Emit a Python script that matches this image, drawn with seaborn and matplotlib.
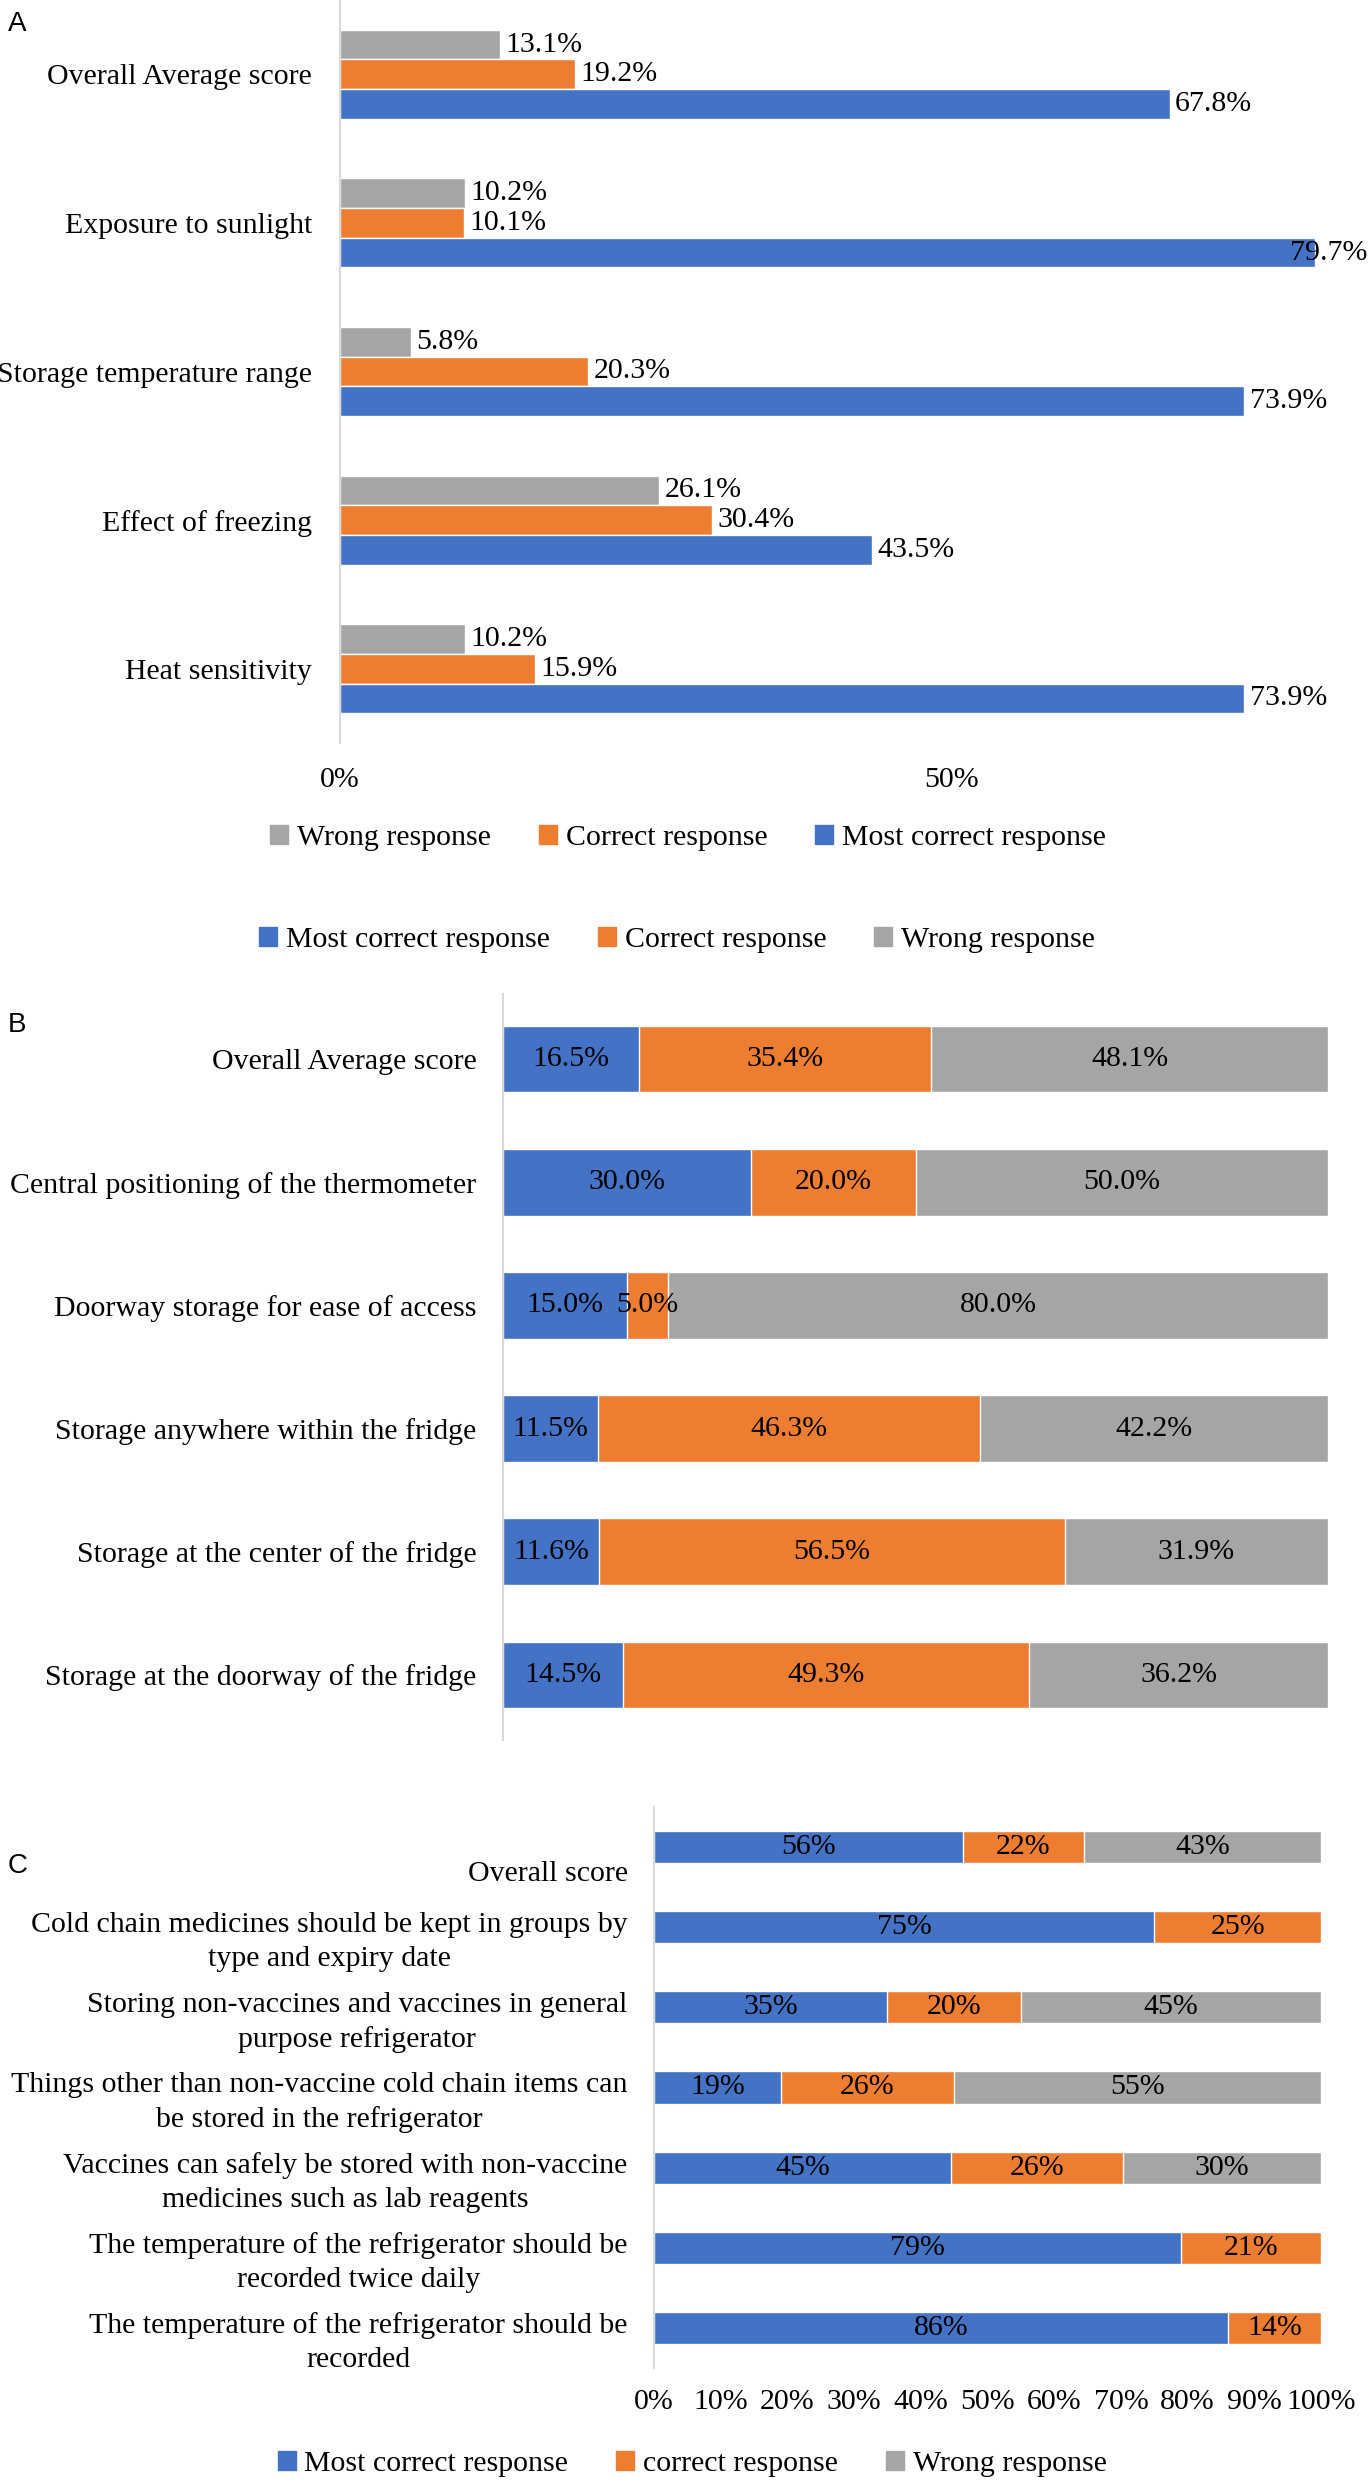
import matplotlib
matplotlib.use("Agg")
import matplotlib.pyplot as plt
import seaborn as sns
import pandas as pd
from matplotlib.patches import Patch
from matplotlib.transforms import ScaledTranslation

BLUE = "#4472C4"
ORANGE = "#ED7D31"
GRAY = "#A5A5A5"

# ---- panel A data
a_items = ["Overall Average score", "Exposure to sunlight", "Storage temperature range",
           "Effect of freezing", "Heat sensitivity"]
a_wrong = [13.1, 10.2, 5.8, 26.1, 10.2]
a_correct = [19.2, 10.1, 20.3, 30.4, 15.9]
a_most = [67.8, 79.7, 73.9, 43.5, 73.9]

# ---- panel B data
b_items = ["Overall Average score", "Central positioning of the thermometer",
           "Doorway storage for ease of access", "Storage anywhere within the fridge",
           "Storage at the center of the fridge", "Storage at the doorway of the fridge"]
b_most = [16.5, 30.0, 15.0, 11.5, 11.6, 14.5]
b_correct = [35.4, 20.0, 5.0, 46.3, 56.5, 49.3]
b_wrong = [48.1, 50.0, 80.0, 42.2, 31.9, 36.2]

# ---- panel C data
c_items = ["Overall score",
           "Cold chain medicines should be kept in groups by\ntype and expiry date",
           "Storing non-vaccines and vaccines in general\npurpose refrigerator",
           "Things other than non-vaccine cold chain items can\nbe stored in the refrigerator",
           "Vaccines can safely be stored with non-vaccine\nmedicines such as lab reagents",
           "The temperature of the refrigerator should be\nrecorded twice daily",
           "The temperature of the refrigerator should be\nrecorded"]
c_most = [56, 75, 35, 19, 45, 79, 86]
c_correct = [22, 25, 20, 26, 26, 21, 14]
c_wrong = [43, 0, 45, 55, 30, 0, 0]

sns.set_theme(style="white")
plt.rcParams["font.family"] = ["Liberation Serif", "DejaVu Serif"]
plt.rcParams["text.color"] = "black"
plt.rcParams["xtick.color"] = "black"
plt.rcParams["ytick.color"] = "black"
FS = 21.5

W, H = 1369, 2480
fig = plt.figure(figsize=(W / 100, H / 100), dpi=100)


def box(l, t, r, b):
    return [l / W, 1 - b / H, (r - l) / W, (b - t) / H]


def style_axis(ax):
    sns.despine(ax=ax, left=False, bottom=True)
    ax.spines["left"].set_color("#D9D9D9")
    ax.spines["left"].set_linewidth(1.5)
    ax.set_xlabel("")
    ax.set_ylabel("")


def legend(handles, x, y):
    fig.legend(handles=handles, loc="center", bbox_to_anchor=(x / W, 1 - y / H), ncol=3,
               frameon=False, fontsize=FS, handlelength=0.6, handleheight=0.6,
               handletextpad=0.3, columnspacing=1.6)


# ================= A
axA = fig.add_axes(box(340, 0, 1369, 743))
resp_a = ["Wrong response", "Correct response", "Most correct response"]
dfA = pd.DataFrame({
    "item": a_items * 3,
    "resp": [resp_a[0]] * 5 + [resp_a[1]] * 5 + [resp_a[2]] * 5,
    "pct": a_wrong + a_correct + a_most,
})
sns.barplot(data=dfA, y="item", x="pct", hue="resp", hue_order=resp_a,
            palette=[GRAY, ORANGE, BLUE], orient="h", width=0.6, saturation=1,
            errorbar=None, legend=False, ax=axA)
a_labels = []
for cont in axA.containers:
    a_labels += axA.bar_label(cont, fmt="%.1f%%", padding=4, fontsize=FS, clip_on=False)
axA.set_xlim(0, 84.1)
axA.set_ylim(4.5, -0.5)
axA.set_xticks([0, 50])
axA.set_xticklabels(["0%", "50%"])
axA.tick_params(axis="x", length=0, pad=17, labelsize=FS)
axA.tick_params(axis="y", length=0, pad=20, labelsize=FS)
style_axis(axA)
legend([Patch(color=GRAY, label="Wrong response"),
        Patch(color=ORANGE, label="Correct response"),
        Patch(color=BLUE, label="Most correct response")], 688, 838)
fig.text(8 / W, 1 - 24 / H, "A", family="Liberation Sans", fontsize=20, va="center")

# labels running past the right edge are pulled back inside (as in the original)
renderer = fig.canvas.get_renderer()
for lab in a_labels:
    bb = lab.get_window_extent(renderer)
    over = bb.x1 - (W - 2)
    if over > 0:
        ox, oy = lab.xyann
        lab.xyann = (ox - over * 72 / 100, oy)


def stacked(ax, items, most, correct, wrong, width, fmt, normalize=False):
    df = pd.DataFrame({"item": items, "most": most, "correct": correct, "wrong": wrong})
    if normalize:
        tot = df["most"] + df["correct"] + df["wrong"]
        for k in ["most", "correct", "wrong"]:
            df[k + "_s"] = df[k] / tot * 100
    else:
        for k in ["most", "correct", "wrong"]:
            df[k + "_s"] = df[k]
    df["c1"] = df["most_s"]
    df["c2"] = df["c1"] + df["correct_s"]
    df["c3"] = df["c2"] + df["wrong_s"]
    for col, colr in [("c3", GRAY), ("c2", ORANGE), ("c1", BLUE)]:
        sns.barplot(data=df, y="item", x=col, color=colr, orient="h", width=width,
                    saturation=1, errorbar=None, ax=ax)
    for i, r in df.iterrows():
        starts = [0, r["c1"], r["c2"]]
        for s, k in zip(starts, ["most", "correct", "wrong"]):
            if r[k] > 0:
                ax.text(s + r[k + "_s"] / 2, i, fmt % r[k], ha="center", va="center",
                        fontsize=FS, color="black")


# ================= B
axB = fig.add_axes(box(503, 994, 1328, 1740))
stacked(axB, b_items, b_most, b_correct, b_wrong, 0.54, "%.1f%%")
axB.set_xlim(0, 100)
axB.set_ylim(5.53, -0.53)
axB.set_xticks([])
axB.tick_params(axis="y", length=0, pad=19, labelsize=FS)
style_axis(axB)
legend([Patch(color=BLUE, label="Most correct response"),
        Patch(color=ORANGE, label="Correct response"),
        Patch(color=GRAY, label="Wrong response")], 677, 940)
fig.text(8 / W, 1 - 1025 / H, "B", family="Liberation Sans", fontsize=20, va="center")

# ================= C
axC = fig.add_axes(box(654, 1807, 1321, 2368))
stacked(axC, c_items, c_most, c_correct, c_wrong, 0.4, "%d%%", normalize=True)
axC.set_xlim(0, 100)
axC.set_ylim(6.5, -0.5)
axC.set_xticks(range(0, 101, 10))
axC.set_xticklabels([f"{v}%" for v in range(0, 101, 10)])
axC.tick_params(axis="x", length=0, pad=15, labelsize=FS)
axC.tick_params(axis="y", length=0, pad=19, labelsize=FS)
for j, t in enumerate(axC.get_yticklabels()):
    t.set_multialignment("center")
    t.set_linespacing(1.4)
    drop = 0.24 if j == 0 else 0.08
    t.set_transform(t.get_transform() + ScaledTranslation(0, -drop, fig.dpi_scale_trans))
style_axis(axC)
legend([Patch(color=BLUE, label="Most correct response"),
        Patch(color=ORANGE, label="correct response"),
        Patch(color=GRAY, label="Wrong response")], 692, 2464)
fig.text(8 / W, 1 - 1866 / H, "C", family="Liberation Sans", fontsize=20, va="center")

fig.savefig("out.png", dpi=100)
